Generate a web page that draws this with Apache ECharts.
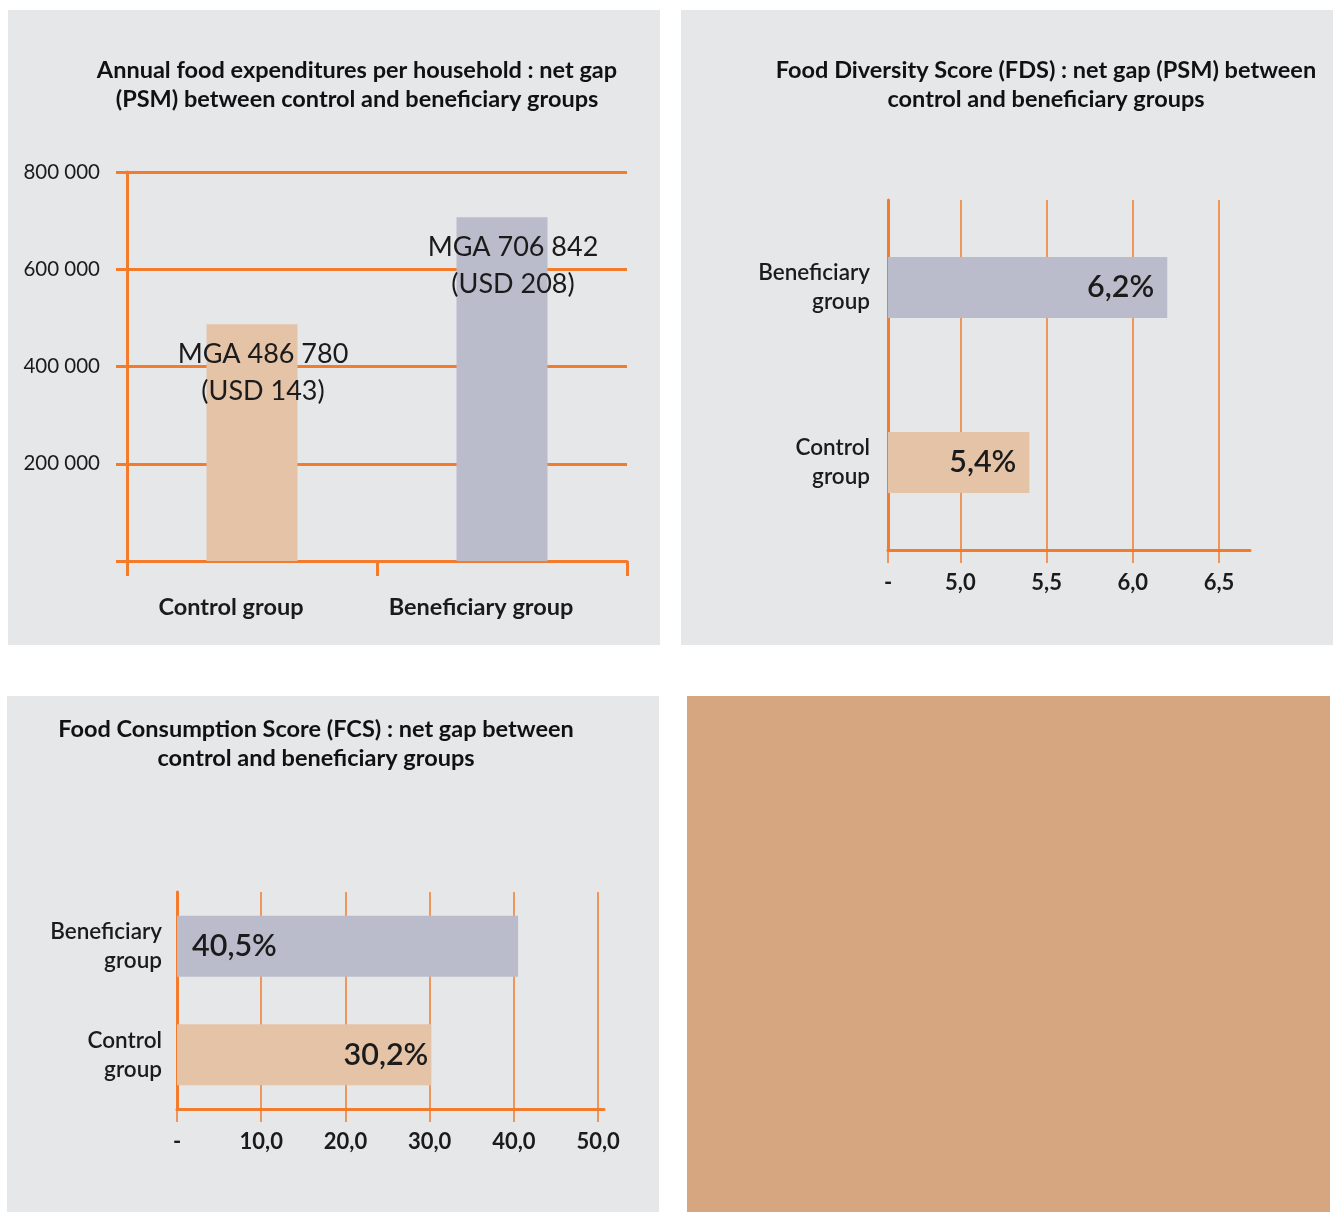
<!DOCTYPE html>
<html>
<head>
<meta charset="utf-8">
<script src="https://cdn.jsdelivr.net/npm/echarts@6/dist/echarts.min.js"></script>
<style>
  body { margin: 0; background: #fff; width: 1333px; height: 1212px; position: relative; overflow: hidden; }
  .panel { position: absolute; background: #e6e7e9; }
</style>
</head>
<body>
<div class="panel" id="expenses" style="left:8px;top:10px;width:652px;height:635px;"></div>
<div class="panel" id="fds" style="left:681px;top:10px;width:652px;height:635px;"></div>
<div class="panel" id="fcs" style="left:7px;top:696px;width:652px;height:516px;"></div>
<div class="panel" style="left:687px;top:696px;width:643px;height:516px;background:#d6a680;"></div>
<script>
// data
const groups = ['Control group', 'Beneficiary group'];
const expenseMga = [486780, 706842];
const expenseUsd = [143, 208];
const expenseTicks = [0, 200000, 400000, 600000, 800000];

const fdsValues = [5.4, 6.2];
const fdsTicks = [4.58, 5.0, 5.5, 6.0, 6.5];

const fcsValues = [30.2, 40.5];
const fcsTicks = [0, 10, 20, 30, 40, 50];

const ORANGE = '#f47b2b';
const TAN = '#e4c3a7';
const GREY = '#babccb';
const INK = '#1b1b1b';
const FONT = 'Lato';
const barColors = [TAN, GREY];

function spaced(n) {
  return String(n).replace(/\B(?=(\d{3})+(?!\d))/g, ' ');
}
function comma(v, d) {
  return v.toFixed(d).replace('.', ',');
}
function titleText(x, y, text) {
  return {
    type: 'text', x: x, y: y,
    style: {
      text: text, fill: '#111', fontFamily: FONT, fontWeight: 'bold', fontSize: 23.5,
      lineHeight: 29, align: 'center', textAlign: 'center', verticalAlign: 'middle', textVerticalAlign: 'middle'
    }
  };
}

// chart 1 : annual food expenditures
let expenses = echarts.init(document.getElementById('expenses'));
expenses.setOption({
  animation: false,
  textStyle: {fontFamily: FONT},
  graphic: [titleText(349, 74.5, 'Annual food expenditures per household : net gap\n(PSM) between control and beneficiary groups')],
  grid: {left: 119, right: 33, top: 162, bottom: 84},
  xAxis: {
    type: 'category',
    data: groups,
    axisLine: {lineStyle: {color: ORANGE, width: 3}},
    axisTick: {show: true, length: 15, lineStyle: {color: ORANGE, width: 3}},
    axisLabel: {margin: 34, fontSize: 23.5, fontWeight: 'bold', color: INK, padding: [0, 42, 0, 0]}
  },
  yAxis: {
    type: 'value',
    min: expenseTicks[0],
    max: expenseTicks[expenseTicks.length - 1],
    interval: 200000,
    axisLine: {show: true, lineStyle: {color: ORANGE, width: 3}},
    axisTick: {show: true, length: 11, lineStyle: {color: ORANGE, width: 3}},
    splitLine: {lineStyle: {color: ORANGE, width: 3}},
    axisLabel: {
      margin: 27, fontSize: 20.5, color: INK,
      formatter: (v) => v === 0 ? '' : spaced(v)
    }
  },
  series: [{
    type: 'bar',
    barWidth: 91,
    data: expenseMga.map((v, i) => ({value: v, itemStyle: {color: barColors[i]}})),
    label: {
      show: true, position: 'insideTop', distance: 11, offset: [11, 0],
      fontSize: 27, lineHeight: 37, color: INK,
      formatter: (p) => 'MGA ' + spaced(p.value) + '\n(USD ' + expenseUsd[p.dataIndex] + ')'
    }
  }]
});

// chart 2 : food diversity score
let fds = echarts.init(document.getElementById('fds'));
fds.setOption({
  animation: false,
  textStyle: {fontFamily: FONT},
  graphic: [titleText(365, 74.5, 'Food Diversity Score (FDS) : net gap (PSM) between\ncontrol and beneficiary groups')],
  grid: {left: 207, right: 83, top: 190, bottom: 95},
  xAxis: {
    type: 'value',
    min: 4.58,
    max: 6.68,
    axisLine: {show: true, lineStyle: {color: ORANGE, width: 3}},
    axisTick: {show: true, length: 13, customValues: fdsTicks, lineStyle: {color: ORANGE, width: 1.5}},
    splitLine: {show: true, lineStyle: {color: ORANGE, width: 1.5}},
    axisLabel: {
      customValues: fdsTicks, margin: 22, fontSize: 22, fontWeight: 'bold', color: INK,
      formatter: (v) => v < 4.9 ? '-' : comma(v, 1)
    }
  },
  yAxis: {
    type: 'category',
    data: groups,
    axisLine: {lineStyle: {color: ORANGE, width: 3}},
    axisTick: {show: false},
    axisLabel: {
      margin: 18, fontSize: 22.5, lineHeight: 29, color: INK, fontWeight: 600,
      formatter: (v) => v.replace(' ', '\n')
    }
  },
  series: [{
    type: 'bar',
    barWidth: 61,
    data: fdsValues.map((v, i) => ({value: v, itemStyle: {color: barColors[i]}})),
    label: {
      show: true, position: 'insideRight', distance: 13,
      fontSize: 30.5, fontWeight: 600, color: INK,
      formatter: (p) => comma(p.value, 1) + '%'
    }
  }]
});

// chart 3 : food consumption score
let fcs = echarts.init(document.getElementById('fcs'));
fcs.setOption({
  animation: false,
  textStyle: {fontFamily: FONT},
  graphic: [titleText(309, 47.5, 'Food Consumption Score (FCS) : net gap between\ncontrol and beneficiary groups')],
  grid: {left: 170, right: 55, top: 196, bottom: 103},
  xAxis: {
    type: 'value',
    min: 0,
    max: 50.7,
    axisLine: {show: true, lineStyle: {color: ORANGE, width: 3}},
    axisTick: {show: true, length: 13, customValues: fcsTicks, lineStyle: {color: ORANGE, width: 1.5}},
    splitLine: {show: true, lineStyle: {color: ORANGE, width: 1.5}},
    axisLabel: {
      customValues: fcsTicks, margin: 22, fontSize: 22, fontWeight: 'bold', color: INK,
      formatter: (v) => v === 0 ? '-' : comma(v, 1)
    }
  },
  yAxis: {
    type: 'category',
    data: groups,
    axisLine: {lineStyle: {color: ORANGE, width: 3}},
    axisTick: {show: false},
    axisLabel: {
      margin: 15, fontSize: 22.5, lineHeight: 29, color: INK, fontWeight: 600,
      formatter: (v) => v.replace(' ', '\n')
    }
  },
  series: [{
    type: 'bar',
    barWidth: 61,
    data: fcsValues.map((v, i) => ({
      value: v,
      itemStyle: {color: barColors[i]},
      label: i === 0 ? {position: 'insideRight', distance: 3} : {position: 'insideLeft', distance: 15}
    })),
    label: {
      show: true, fontSize: 30.5, fontWeight: 600, color: INK,
      formatter: (p) => comma(p.value, 1) + '%'
    }
  }]
});
</script>
</body>
</html>
